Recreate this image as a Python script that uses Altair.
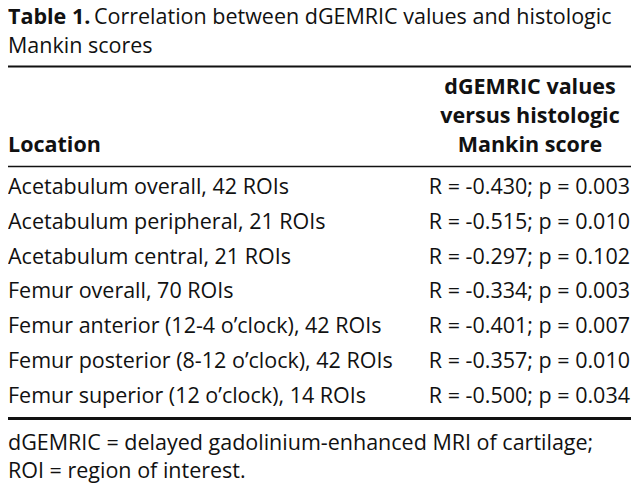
import altair as alt
import pandas as pd

# ---- data ----
title_bold = "Table 1."
title_rest = ["Correlation between dGEMRIC values and histologic", "Mankin scores"]
header_left = "Location"
header_right = ["dGEMRIC values", "versus histologic", "Mankin score"]
locations = [
    "Acetabulum overall, 42 ROIs",
    "Acetabulum peripheral, 21 ROIs",
    "Acetabulum central, 21 ROIs",
    "Femur overall, 70 ROIs",
    "Femur anterior (12-4 o\u2019clock), 42 ROIs",
    "Femur posterior (8-12 o\u2019clock), 42 ROIs",
    "Femur superior (12 o\u2019clock), 14 ROIs",
]
r_values = [-0.430, -0.515, -0.297, -0.334, -0.401, -0.357, -0.500]
p_values = [0.003, 0.010, 0.102, 0.003, 0.007, 0.010, 0.034]
footnotes = [
    "dGEMRIC = delayed gadolinium-enhanced MRI of cartilage;",
    "ROI = region of interest.",
]

FONT = "Open Sans"
FS = 21.5
W, H = 623, 476
INK = "#111111"

body = pd.DataFrame({
    "row": list(range(len(locations))),
    "location": locations,
    "stat": [f"R = {r:.3f}; p = {p:.3f}" for r, p in zip(r_values, p_values)],
})

def txt(text, x, y, bold=False, align="left"):
    return alt.Chart(pd.DataFrame({"t": [text]})).mark_text(
        font=FONT, fontSize=FS, fontWeight="bold" if bold else "normal",
        align=align, baseline="alphabetic", color=INK,
    ).encode(text="t:N", x=alt.value(x), y=alt.value(y))

def rule(y, w):
    return alt.Chart(pd.DataFrame({"a": [0]})).mark_rule(
        color=INK, strokeWidth=w
    ).encode(x=alt.value(0), x2=alt.value(W), y=alt.value(y))

layers = []
# title
layers.append(txt(title_bold, 0, 16, bold=True))
layers.append(txt(title_rest[0], 86, 16))
layers.append(txt(title_rest[1], 0, 44.5))
layers.append(rule(58.5, 2))
# header
hy = [86, 115, 144]
for line, y in zip(header_right, hy):
    layers.append(txt(line, 522, y, bold=True, align="center"))
layers.append(txt(header_left, 0, 144, bold=True))
layers.append(rule(158.5, 1.5))
# body
yscale = alt.Scale(domain=[0, len(locations) - 1], range=[186, 394.5])
layers.append(alt.Chart(body).mark_text(
    font=FONT, fontSize=FS, baseline="alphabetic", color=INK, align="left"
).encode(
    text="location:N", x=alt.value(0),
    y=alt.Y("row:Q", scale=yscale, axis=None)))
layers.append(alt.Chart(body).mark_text(
    font=FONT, fontSize=FS, baseline="alphabetic", color=INK, align="right"
).encode(
    text="stat:N", x=alt.value(W - 1),
    y=alt.Y("row:Q", scale=yscale, axis=None)))
layers.append(rule(410.5, 3))
# footnotes
layers.append(txt(footnotes[0], 0, 442))
layers.append(txt(footnotes[1], 0, 469.5))

chart = alt.layer(*layers).properties(
    width=W, height=H, padding=0, autosize="none"
).configure_view(stroke=None)

chart.save("out.html", embed_options={"renderer": "svg", "actions": False})
